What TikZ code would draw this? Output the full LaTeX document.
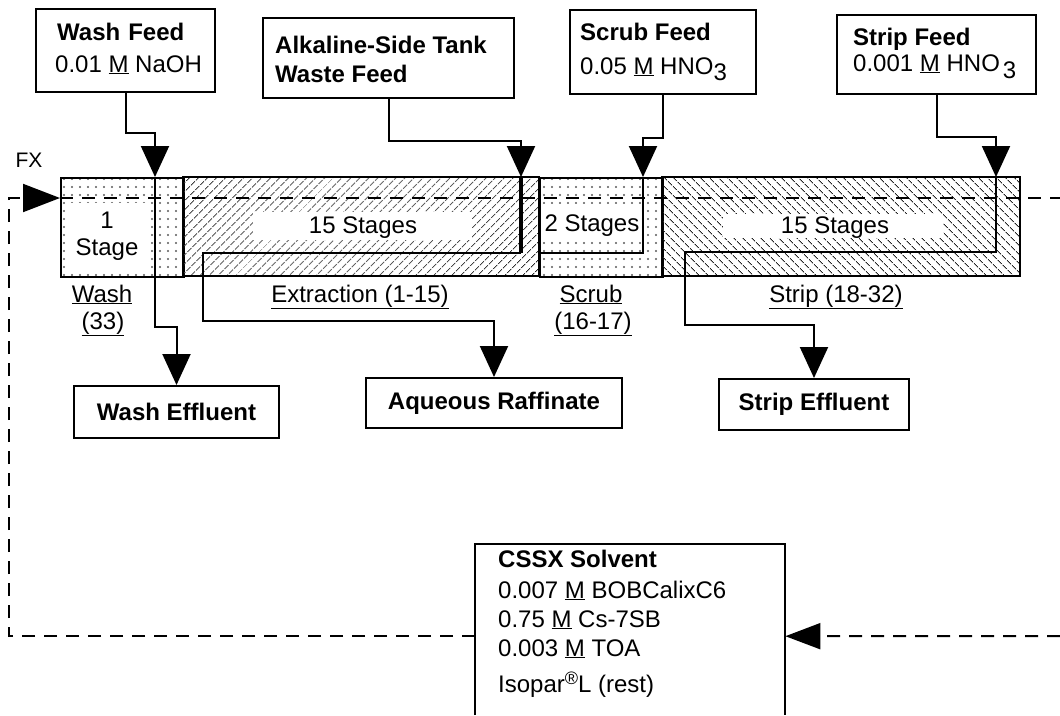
\documentclass[tikz,border=0pt]{standalone}
\usepackage{fontspec}
\setmainfont{Liberation Sans}
\usetikzlibrary{arrows.meta,patterns.meta}
\begin{document}
\begin{tikzpicture}[x=1pt,y=-1pt,
  every node/.style={font=\fontsize{24}{28}\selectfont, inner sep=0pt},
  bold/.style={font=\fontsize{24}{28}\selectfont\bfseries},
  box/.style={draw, line width=2pt, anchor=north west, inner sep=0pt},
  lbl/.style={anchor=base west},
  clbl/.style={anchor=base},
  flow/.style={line width=2pt},
  tip/.style={-{Triangle[length=31pt,width=28pt]}},
  dflow/.style={line width=2pt, dash pattern=on 13pt off 9pt},
  dotsec/.style={draw, line width=2pt, anchor=north west, minimum height=99pt,
    pattern={Dots[distance=8pt,radius=1.1pt]}, pattern color=black!65},
  hatchA/.style={draw, line width=2pt, anchor=north west, minimum height=99pt,
    pattern={Lines[angle=45,distance=6.5pt,line width=0.9pt]}, pattern color=black!85},
  hatchB/.style={draw, line width=2pt, anchor=north west, minimum height=99pt,
    pattern={Lines[angle=-45,distance=6.5pt,line width=0.9pt]}, pattern color=black!85},
]
\useasboundingbox (0,0) rectangle (1060,715);

% ---------------- contactor bank ----------------
\node[dotsec, minimum width=123pt] (washsec) at (60,177) {};
\node[hatchA, minimum width=356pt] (extsec) at (183,177) {};
\node[dotsec, minimum width=123pt] (scrsec) at (539,177) {};
\node[hatchB, minimum width=358pt] (strsec) at (662,177) {};

\fill[white] (67,203) rectangle (151,271);
\fill[white] (253,212) rectangle (472,240);
\fill[white] (541,204) rectangle (641,241);
\fill[white] (723,214) rectangle (943,238);

\node[clbl] (w1) at (107,228) {1};
\node[clbl] (w2) at (107,255) {Stage};
\node[clbl] (e15) at (363,233) {15 Stages};
\node[clbl] (s2) at (592,231) {2 Stages};
\node[clbl] (st15) at (835,233) {15 Stages};

% coordinates
\coordinate (barin) at (60,198);
\coordinate (outend) at (1060,198);
\coordinate (lc) at (9,198);
\coordinate (rend) at (1060,636);
\coordinate (bot) at (0,715);
\coordinate (washin) at (155,177);
\coordinate (alkin) at (521,177);
\coordinate (extturn) at (521,253);
\coordinate (scrin) at (643,177);
\coordinate (stripin) at (996,177);

% organic dashed line
\draw[dflow] (barin) -- (outend);

% ---------------- feed boxes ----------------
\node[box, minimum width=179pt, minimum height=83pt] (washfeed) at (35,8) {};
\node[lbl, bold] (wfA) at (57,40) {Wash\hspace{8pt}Feed};
\node[lbl] (wfB) at (55,72) {0.01 \underline{M} NaOH};

\node[box, minimum width=251pt, minimum height=80pt] (alk) at (262,17) {};
\node[lbl, bold] (alA) at (275,53) {Alkaline-Side Tank};
\node[lbl, bold] (alB) at (275,82) {Waste Feed};

\node[box, minimum width=186pt, minimum height=84pt] (scrub) at (569,9) {};
\node[lbl, bold] (scA) at (580,40) {Scrub Feed};
\node[lbl] (scB) at (580,74) {0.05 \underline{M} HNO\raisebox{-6pt}{3}};

\node[box, minimum width=199pt, minimum height=79pt] (strip) at (836,14) {};
\node[lbl, bold] (stA) at (853,45) {Strip Feed};
\node[lbl] (stB) at (853,71) {0.001 \underline{M} HNO\hspace{3pt}\raisebox{-7pt}{3}};

% ---------------- product boxes ----------------
\node[box, bold, minimum width=205pt, minimum height=52pt] (washeff) at (73,385) {Wash Effluent};
\node[box, bold, minimum width=256pt, minimum height=50pt] (raff) at (365,377) {Aqueous Raffinate};
\node[box, bold, minimum width=190pt, minimum height=51pt] (stripeff) at (718,378) {Strip Effluent};

% ---------------- solvent box ----------------
\node[anchor=north west, minimum width=310pt, minimum height=184pt] (solvent) at (475,544) {};
\draw[line width=2pt] (solvent.north west |- bot) -- (solvent.north west) -- (solvent.north east) -- (solvent.north east |- bot);
\node[lbl, bold] (svA) at (498,567) {CSSX Solvent};
\node[lbl] (svB) at (498,598) {0.007 \underline{M} BOBCalixC6};
\node[lbl] (svC) at (498,627) {0.75 \underline{M} Cs-7SB};
\node[lbl] (svD) at (498,656) {0.003 \underline{M} TOA};
\node[lbl] (svE) at (498,692) {Isopar\raisebox{8pt}{\fontsize{18}{18}\selectfont\textregistered}L (rest)};

% ---------------- section labels ----------------
\node[clbl] (washlbl) at (102,302) {\underline{Wash}};
\node[clbl] (washnum) at (103,329) {\underline{(33)}};
\node[clbl] (extlbl) at (360,302) {\underline{Extraction (1-15)}};
\node[clbl] (scrlbl) at (591,302) {\underline{Scrub}};
\node[clbl] (scrnum) at (593,329) {\underline{(16-17)}};
\node[clbl] (strlbl) at (836,302) {\underline{Strip (18-32)}};
\node[clbl, font=\fontsize{21}{24}\selectfont] (fx) at (29,167) {FX};

% ---------------- aqueous flows ----------------
\draw[flow, tip] (washfeed.south) -- ++(0,40) -| (washin);
\draw[flow, tip] (washin) -- (155,327) -| (washeff.north);

\draw[flow, tip] (alk.south) -- ++(0,42) -| (alkin);
\draw[line width=4.5pt] (alkin) -- (extturn);
\draw[flow, tip] (extturn) -- (203,253) -- (203,321) -| (raff.north);

\draw[flow, tip] (scrub.south) -- ++(0,43) -| (scrin);
\draw[flow] (scrin) -- (643,253) -- (540,253);

\draw[flow, tip] (strip.south) -- ++(0,42) -| (stripin);
\draw[flow, tip] (stripin) -- (996,252) -- (685,252) -- (685,325) -| (stripeff.north);

% ---------------- solvent recycle ----------------
\draw[dflow, -{Triangle[length=37pt,width=28pt]}] (solvent.west) -| (lc) -- (barin);
\draw[dflow, -{Triangle[length=35pt,width=26pt]}] (rend) -- (solvent.east);

\end{tikzpicture}
\end{document}
